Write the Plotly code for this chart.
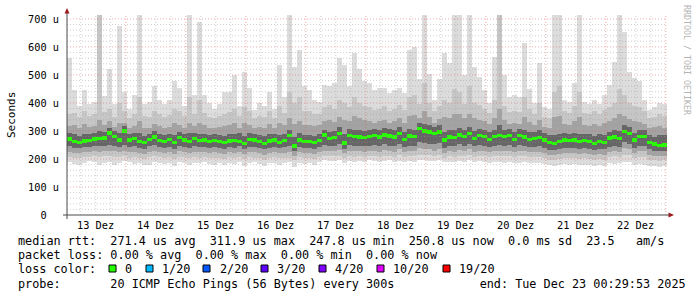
import plotly.graph_objects as go
import pandas as pd

# ---------------- data ----------------
START = "2025-12-13 00:29:53"
END = "2025-12-23 00:29:53"
STEP_HOURS = 2

median = [271,262,259,264,266,271,272,275,293,280,268,300,268,272,262,258,270,279,266,262,270,258,276,268,
          263,272,265,268,263,266,263,258,264,265,262,256,270,268,263,255,264,268,258,265,283,246,268,262,
          262,258,266,285,274,276,292,257,284,280,278,276,280,284,278,286,282,278,290,270,282,280,308,300,296,290,296,268,278,276,286,280,
          292,274,283,280,270,280,283,280,283,270,283,278,270,274,276,268,258,256,262,268,265,268,262,266,262,256,262,259,275,278,274,298,290,268,280,280,258,254,248,250]

ping_max = [560,445,390,445,395,405,714,425,520,395,675,440,380,430,714,395,405,460,410,395,410,480,455,390,
            714,430,690,430,400,380,395,440,440,500,390,511,455,375,400,390,440,380,535,423,714,530,590,460,
            445,410,405,465,460,470,560,535,460,580,520,480,470,445,455,455,435,445,455,435,590,600,485,714,505,410,485,577,542,714,714,500,
            714,530,493,445,400,565,714,500,420,430,420,613,450,400,541,385,380,714,714,410,405,470,714,405,395,410,395,430,463,547,714,653,511,488,480,410,375,385,400,395]

upper_2 = [360,365,350,372,355,360,714,368,380,350,400,370,345,360,420,355,350,372,360,350,358,380,370,352,
           420,362,410,365,350,345,352,360,368,380,352,385,370,345,355,350,372,348,390,365,440,400,420,372,
           370,360,362,385,392,380,410,400,385,420,400,390,385,375,380,390,372,380,392,375,420,430,395,470,400,370,390,410,400,450,440,395,
           460,400,392,380,365,410,714,390,368,372,368,420,380,360,400,350,345,440,460,372,365,390,440,365,360,372,360,375,385,400,450,430,400,390,385,370,345,350,360,355]

upper_3 = [318,320,312,325,315,318,340,322,335,315,330,328,310,318,335,312,312,325,318,310,315,330,322,312,
           330,318,328,320,312,310,315,318,322,328,312,330,322,310,315,310,325,312,330,320,345,325,335,322,
           322,318,320,335,338,332,350,340,335,352,345,340,335,330,335,340,330,335,345,330,352,358,345,370,350,330,342,350,345,362,360,345,
           360,345,340,335,325,345,380,338,325,328,325,350,332,320,340,315,312,350,355,325,322,335,350,322,318,325,318,328,335,345,360,352,342,335,332,325,312,315,318,312]

upper_4 = [292,288,282,290,288,292,300,295,312,300,292,318,288,292,292,282,290,300,290,285,290,285,298,290,
           292,292,288,290,285,288,286,282,288,290,292,282,292,290,286,282,290,290,285,288,305,280,292,286,
           286,282,290,305,298,300,315,290,308,305,302,300,305,308,302,310,306,302,315,296,308,305,330,325,320,315,320,298,305,302,312,305,
           315,300,308,305,296,305,320,305,306,296,308,302,295,298,302,292,284,285,288,292,290,292,288,290,288,282,288,286,298,302,300,320,315,294,305,304,284,280,286,284]

lower_4 = [245,240,238,242,244,246,246,248,250,248,244,250,244,246,240,236,246,250,242,240,244,236,248,244,
           240,246,242,244,240,242,240,236,242,240,246,235,244,242,240,234,240,244,238,242,245,228,244,240,
           240,236,242,250,248,248,252,236,250,248,248,246,248,250,246,252,248,246,254,244,248,248,260,258,255,252,256,240,248,246,252,248,
           255,246,250,248,242,248,250,248,250,242,250,248,242,244,246,240,232,232,236,240,238,240,236,238,236,232,236,234,244,248,244,260,255,240,248,248,234,230,228,230]

lower_3 = [226,222,220,224,226,228,226,230,230,228,226,230,225,226,222,218,226,230,224,222,225,218,228,225,
           222,226,224,225,222,224,222,218,224,222,226,218,225,224,222,216,222,225,220,223,225,212,225,222,
           222,218,224,230,228,228,232,220,230,228,228,226,228,230,226,232,228,226,234,225,228,228,238,236,234,230,234,222,228,226,232,228,
           234,226,230,228,224,228,230,228,230,224,230,228,224,226,226,222,216,215,218,222,220,222,218,220,218,215,218,216,225,228,225,238,234,222,228,228,216,212,210,212]

lower_2 = [208,205,202,206,208,210,206,210,210,208,206,210,205,208,204,200,208,210,206,204,206,200,208,206,
           204,208,205,206,204,205,204,200,206,204,208,200,206,205,204,198,204,206,202,204,205,195,206,204,
           204,200,206,210,210,210,212,202,210,208,210,208,210,212,208,212,210,208,214,206,210,210,216,215,214,212,214,205,210,208,212,210,
           214,208,210,210,206,210,210,210,210,206,210,210,206,208,208,204,198,196,200,204,202,204,200,202,200,198,200,198,206,210,206,216,214,204,208,208,198,195,193,195]

ping_min = [190,182,178,185,192,188,180,186,190,178,184,192,188,182,186,178,180,190,186,182,185,176,188,184,
            180,186,184,188,182,178,185,180,186,182,190,176,184,188,182,175,184,186,180,184,188,172,186,182,
            184,178,190,196,192,194,196,186,194,190,192,188,196,194,190,192,196,190,194,188,192,190,198,196,194,192,196,188,190,188,194,190,
            196,188,192,190,186,188,190,186,188,184,186,190,184,186,186,182,178,176,178,182,180,182,178,180,178,174,178,176,184,182,186,190,188,180,182,180,176,174,172,176]

day_labels = ["13 Dez", "14 Dez", "15 Dez", "16 Dez", "17 Dez", "18 Dez", "19 Dez", "20 Dez", "21 Dez", "22 Dez"]
y_tick_values = [0, 100, 200, 300, 400, 500, 600, 700]
y_tick_text = ["0\u00a0\u00a0", "100 u", "200 u", "300 u", "400 u", "500 u", "600 u", "700 u"]

loss_labels = ["0", "1/20", "2/20", "3/20", "4/20", "10/20", "19/20"]
loss_colors = ["#26ff00", "#00b8ff", "#0059ff", "#5e00ff", "#7e00ff", "#dd00ff", "#ff0000"]

line_rtt = "median rtt:  271.4 us avg  311.9 us max  247.8 us min  250.8 us now  0.0 ms sd  23.5   am/s"
line_loss = "packet loss: 0.00 % avg  0.00 % max  0.00 % min  0.00 % now"
line_probe = "probe:       20 ICMP Echo Pings (56 Bytes) every 300s            end: Tue Dec 23 00:29:53 2025"

# ---------------- layout constants ----------------
W, H = 697, 297
L, R, T, B = 67, 667, 15, 215
Y_MAX = 714
MONO = "DejaVu Sans Mono"


def px(x):
    return (x - L) / (R - L)


def py(y):
    return (B - y) / (B - T)


def nb(s):
    return s.replace(" ", "\u00a0")


start = pd.Timestamp(START)
end = pd.Timestamp(END)
n = len(median)
times = [start + pd.Timedelta(hours=STEP_HOURS * (i + 0.5)) for i in range(n)]
bar_w = STEP_HOURS * 3600 * 1000

fig = go.Figure()

bands = [
    (ping_min, ping_max, "#dcdcdc"),
    (lower_2, upper_2, "#c6c6c6"),
    (lower_3, upper_3, "#a3a3a3"),
    (lower_4, upper_4, "#666666"),
]
for lo, hi, col in bands:
    fig.add_trace(go.Bar(
        x=times, base=lo, y=[h - l for h, l in zip(hi, lo)], width=bar_w,
        marker=dict(color=col, line=dict(width=0)), hoverinfo="skip", showlegend=False))

MED_H = 12
fig.add_trace(go.Bar(
    x=times, base=[m - MED_H / 2 for m in median], y=[MED_H] * n, width=bar_w,
    marker=dict(color=loss_colors[0], line=dict(width=0)), hoverinfo="skip", showlegend=False))

shapes = []
minor_col = "rgba(150,150,150,0.45)"
major_col = "rgba(230,90,90,0.5)"
# horizontal grid
for v in range(20, 701, 20):
    shapes.append(dict(type="line", xref="paper", yref="y", x0=0, x1=1, y0=v, y1=v, layer="above",
                       line=dict(color=major_col if v % 100 == 0 else minor_col, width=1, dash="1px,2px")))
# vertical grid
t = pd.Timestamp("2025-12-13 06:00:00")
while t < end:
    major = (t.hour == 0)
    shapes.append(dict(type="line", xref="x", yref="paper", x0=t, x1=t, y0=0, y1=1, layer="above",
                       line=dict(color=major_col if major else minor_col, width=1, dash="1px,2px")))
    t += pd.Timedelta(hours=6)

axis_col = "#4a4a4a"
shapes.append(dict(type="line", xref="paper", yref="paper", x0=px(67), x1=px(67), y0=py(219), y1=py(12),
                   line=dict(color=axis_col, width=1), layer="above"))
shapes.append(dict(type="line", xref="paper", yref="paper", x0=px(63), x1=px(670), y0=0, y1=0,
                   line=dict(color=axis_col, width=1), layer="above"))
arrow_col = "#9b1c1c"
shapes.append(dict(type="path", xref="paper", yref="paper",
                   path=f"M {px(64.5)} {py(13.5)} L {px(67)} {py(8)} L {px(69.5)} {py(13.5)} Z",
                   fillcolor=arrow_col, line=dict(width=0), layer="above"))
shapes.append(dict(type="path", xref="paper", yref="paper",
                   path=f"M {px(668.5)} {py(212.5)} L {px(674)} {py(215)} L {px(668.5)} {py(217.5)} Z",
                   fillcolor=arrow_col, line=dict(width=0), layer="above"))

annotations = []
# day labels at noon
for i, lab in enumerate(day_labels):
    noon = pd.Timestamp("2025-12-13 12:00:00") + pd.Timedelta(days=i)
    annotations.append(dict(x=noon, xref="x", y=py(224.5), yref="paper", text=nb(lab), showarrow=False,
                            xanchor="center", yanchor="middle", font=dict(family=MONO, size=10.3, color="#000")))
annotations.append(dict(x=px(11), y=py(115), xref="paper", yref="paper", text="Seconds", textangle=-90,
                        showarrow=False, xanchor="center", yanchor="middle",
                        font=dict(family=MONO, size=11, color="#000")))
annotations.append(dict(x=px(687), y=py(60), xref="paper", yref="paper", text=nb("RRDTOOL / TOBI OETIKER"),
                        textangle=90, showarrow=False, xanchor="center", yanchor="middle",
                        font=dict(family=MONO, size=8.3, color="#b4b4b4")))

LEG = dict(family=MONO, size=11.8, color="#000")
for txt, yy in [(line_rtt, 241), (line_loss, 255), (line_probe, 283.5)]:
    annotations.append(dict(x=px(16), y=py(yy), xref="paper", yref="paper", text=nb(txt), showarrow=False,
                            xanchor="left", yanchor="middle", font=LEG))
annotations.append(dict(x=px(16), y=py(269), xref="paper", yref="paper", text=nb("loss color:"), showarrow=False,
                        xanchor="left", yanchor="middle", font=LEG))
box_x = [109, 146, 203, 261, 319, 377, 443]
text_x = [123, 160, 218, 275, 333, 391, 457]
for bx, tx, lab, col in zip(box_x, text_x, loss_labels, loss_colors):
    shapes.append(dict(type="rect", xref="paper", yref="paper", x0=px(bx), x1=px(bx + 7), y0=py(272), y1=py(265),
                       fillcolor=col, line=dict(color="#000", width=1)))
    annotations.append(dict(x=px(tx), y=py(269), xref="paper", yref="paper", text=nb(lab), showarrow=False,
                            xanchor="left", yanchor="middle", font=LEG))

fig.update_layout(
    width=W, height=H, margin=dict(l=L, r=W - R, t=T, b=H - B),
    paper_bgcolor="#ffffff", plot_bgcolor="#ffffff",
    barmode="overlay", bargap=0, showlegend=False,
    shapes=shapes, annotations=annotations,
    xaxis=dict(type="date", range=[start, end], showgrid=False, zeroline=False, showticklabels=False,
               ticks="", showline=False, fixedrange=True),
    yaxis=dict(range=[0, Y_MAX], tickvals=y_tick_values, ticktext=y_tick_text, showgrid=False, zeroline=False,
               ticks="", showline=False, ticklabelstandoff=7,
               tickfont=dict(family=MONO, size=10.3, color="#000"), fixedrange=True),
)

fig.write_html("out.html")
